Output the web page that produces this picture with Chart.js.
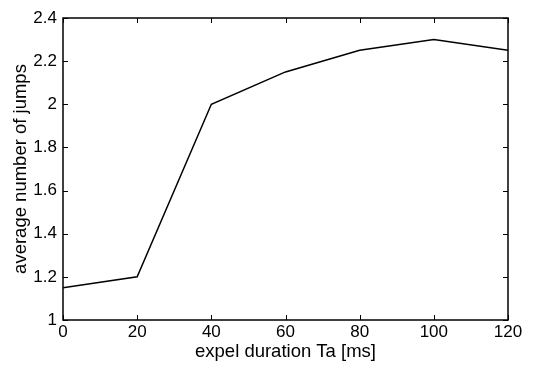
<!DOCTYPE html>
<html>
<head>
<meta charset="utf-8">
<script src="https://cdn.jsdelivr.net/npm/chart.js@4/dist/chart.umd.min.js"></script>
<style>
  html, body { margin: 0; padding: 0; background: #fff; }
  #wrap { width: 536px; height: 365px; }
</style>
</head>
<body>
<div id="wrap"><canvas id="jumps"></canvas></div>
<script>
// expel duration Ta [ms] vs average number of jumps
const durations = [0, 20, 40, 60, 80, 100, 120];
const avgJumps = [1.15, 1.2, 2.0, 2.15, 2.25, 2.3, 2.25];
const xRange = [0, 120, 20];
const yRange = [1, 2.4, 0.2];

const tickFont = { family: 'Liberation Sans, Arial, Helvetica, sans-serif', size: 17 };
const titleFont = { family: 'Liberation Sans, Arial, Helvetica, sans-serif', size: 18.5 };

// matlab style box with ticks pointing inward on all four sides
const boxTicks = {
  id: 'boxTicks',
  afterDraw(chart) {
    const { ctx, chartArea: a, scales } = chart;
    const len = 5;
    ctx.save();
    ctx.strokeStyle = '#000';
    ctx.lineWidth = 1;
    ctx.beginPath();
    scales.x.ticks.forEach(t => {
      const px = Math.round(scales.x.getPixelForValue(t.value)) + 0.5;
      ctx.moveTo(px, a.bottom); ctx.lineTo(px, a.bottom - len);
      ctx.moveTo(px, a.top); ctx.lineTo(px, a.top + len);
    });
    scales.y.ticks.forEach(t => {
      const py = Math.round(scales.y.getPixelForValue(t.value)) + 0.5;
      ctx.moveTo(a.left, py); ctx.lineTo(a.left + len, py);
      ctx.moveTo(a.right, py); ctx.lineTo(a.right - len, py);
    });
    ctx.stroke();
    ctx.lineWidth = 1.5;
    ctx.strokeRect(a.left, a.top, a.right - a.left, a.bottom - a.top);
    ctx.restore();
  }
};

const ctx = document.getElementById('jumps');
new Chart(ctx, {
  type: 'line',
  data: {
    datasets: [{
      data: durations.map((d, i) => ({ x: d, y: avgJumps[i] })),
      borderColor: '#000',
      borderWidth: 1.5,
      pointRadius: 0,
      tension: 0,
      fill: false
    }]
  },
  options: {
    responsive: true,
    maintainAspectRatio: false,
    animation: false,
    layout: { padding: { left: 0, top: 18, right: 28, bottom: 0 } },
    plugins: { legend: { display: false }, tooltip: { enabled: false } },
    scales: {
      x: {
        type: 'linear',
        min: xRange[0], max: xRange[1],
        grid: { display: false, drawTicks: false, tickLength: 0 },
        border: { display: false },
        ticks: { stepSize: xRange[2], color: '#000', font: tickFont, padding: 2, maxRotation: 0 },
        title: { display: true, text: 'expel duration Ta [ms]', color: '#000', font: titleFont, padding: { top: 0, bottom: 2 } },
        afterFit(s) { s.height = 45; }
      },
      y: {
        min: yRange[0], max: yRange[1],
        grid: { display: false, drawTicks: false, tickLength: 0 },
        border: { display: false },
        ticks: {
          stepSize: yRange[2], color: '#000', font: tickFont, padding: 6,
          callback: v => String(+v.toFixed(1))
        },
        title: { display: true, text: 'average number of jumps', color: '#000', font: titleFont, padding: { top: 10, bottom: 0 } },
        afterFit(s) { s.width = 63; }
      }
    }
  },
  plugins: [boxTicks]
});
</script>
</body>
</html>
